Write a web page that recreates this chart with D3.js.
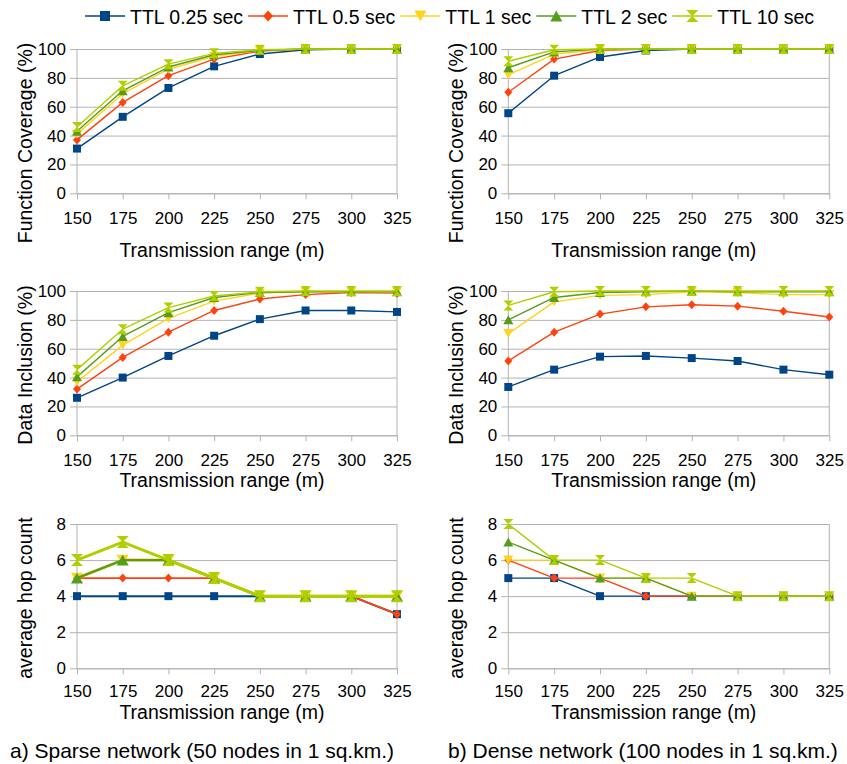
<!DOCTYPE html>
<html><head><meta charset="utf-8">
<script src="https://cdn.jsdelivr.net/npm/d3@7"></script>
<style>
html,body{margin:0;padding:0;background:#fff;}
svg text{font-family:"Liberation Sans",Arial,sans-serif;fill:#000;}
</style></head>
<body><svg id="c" width="847" height="764"></svg>
<script>
// ---- data ----
const ranges = [150, 175, 200, 225, 250, 275, 300, 325];
const seriesNames = ["TTL 0.25 sec", "TTL 0.5 sec", "TTL 1 sec", "TTL 2 sec", "TTL 10 sec"];
const pctTicks = [0, 20, 40, 60, 80, 100];
const hopTicks = [0, 2, 4, 6, 8];

const sparseCoverage025 = [31, 53, 73, 88, 96.5, 99.5, 100, 100];
const sparseCoverage05  = [37, 63, 81.5, 93, 98.5, 100, 100, 100];
const sparseCoverage1   = [41, 69, 86, 95, 99, 100, 100, 100];
const sparseCoverage2   = [43, 71, 87.5, 96, 99, 100, 100, 100];
const sparseCoverage10  = [46, 74.5, 89.5, 97, 99.5, 100, 100, 100];

const denseCoverage025 = [55.5, 81.5, 94.5, 99, 100, 100, 100, 100];
const denseCoverage05  = [70, 93, 99, 100, 100, 100, 100, 100];
const denseCoverage1   = [82, 96.5, 99.5, 100, 100, 100, 100, 100];
const denseCoverage2   = [87, 98, 100, 100, 100, 100, 100, 100];
const denseCoverage10  = [91.5, 99.5, 100, 100, 100, 100, 100, 100];

const sparseInclusion025 = [26, 40, 55, 69, 80.5, 86.5, 86.5, 85.5];
const sparseInclusion05  = [32, 54, 71.5, 86.5, 94.5, 97.5, 99, 98.5];
const sparseInclusion1   = [37, 62.5, 81, 93, 98.5, 99.5, 99.5, 99.5];
const sparseInclusion2   = [40.5, 68.5, 85, 95.5, 99, 99.5, 99.5, 99.5];
const sparseInclusion10  = [45.5, 73.5, 88.5, 96.5, 99.5, 100, 100, 100];

const denseInclusion025 = [33.5, 45.5, 54.5, 55, 53.5, 51.5, 45.5, 42];
const denseInclusion05  = [51.5, 71.5, 84, 89, 90.5, 89.5, 86, 82];
const denseInclusion1   = [70.5, 92.5, 97, 97.5, 99.5, 99, 97.5, 97.5];
const denseInclusion2   = [80, 95.5, 99, 99.5, 100, 99.5, 99.5, 99.5];
const denseInclusion10  = [90, 99.5, 100, 100, 100, 100, 100, 100];

const sparseHops025 = [4, 4, 4, 4, 4, 4, 4, 3];
const sparseHops05  = [5, 5, 5, 5, 4, 4, 4, 3];
const sparseHops1   = [5, 6, 6, 5, 4, 4, 4, 4];
const sparseHops2   = [5, 6, 6, 5, 4, 4, 4, 4];
const sparseHops10  = [6, 7, 6, 5, 4, 4, 4, 4];

const denseHops025 = [5, 5, 4, 4, 4, 4, 4, 4];
const denseHops05  = [6, 5, 5, 4, 4, 4, 4, 4];
const denseHops1   = [6, 6, 5, 5, 4, 4, 4, 4];
const denseHops2   = [7, 6, 5, 5, 4, 4, 4, 4];
const denseHops10  = [8, 6, 6, 5, 5, 4, 4, 4];

const captions = ["a) Sparse network (50 nodes in 1 sq.km.)", "b) Dense network (100 nodes in 1 sq.km.)"];

// ---- styles ----
const colors = ["#004586", "#ff420e", "#ffd320", "#579d1c", "#aecf00"];
const FONT_TICK = 17, FONT_TITLE = 19.5, FONT_LEG = 19.5, FONT_CAP = 21;
const grid = "#b3b3b3";

// marker shapes
const sqr = {draw(c, s){ const h = s/2; c.moveTo(-h,-h); c.lineTo(h,-h); c.lineTo(h,h); c.lineTo(-h,h); c.closePath(); }};
const dia = {draw(c, s){ const w = s/2, h = s/2+0.5; c.moveTo(0,-h); c.lineTo(w,0); c.lineTo(0,h); c.lineTo(-w,0); c.closePath(); }};
const triDown = {draw(c, s){ const w = s/2, h = s*0.45; c.moveTo(-w,-h); c.lineTo(w,-h); c.lineTo(0,h); c.closePath(); }};
const triUp = {draw(c, s){ const w = s/2, h = s*0.45; c.moveTo(-w,h); c.lineTo(w,h); c.lineTo(0,-h); c.closePath(); }};
const hour = {draw(c, s){ const w = s/2, h = s/2; c.moveTo(-w,-h); c.lineTo(w,-h); c.lineTo(0,0); c.lineTo(w,h); c.lineTo(-w,h); c.lineTo(0,0); c.closePath(); }};
const shapes = [sqr, dia, triDown, triUp, hour];
const shapeSizes = [8, 8, 10, 10, 10];

const svg = d3.select("#c");

const L = {x0: 77, x1: 397}, R = {x0: 508.3, x1: 829.3};
const rows = [
  {y0: 49, y1: 193.3, ticks: pctTicks, dom: [0, 100], title: "Function Coverage (%)", tickBase: 224, xTitleBase: 257, yTitleCenter: 143},
  {y0: 291, y1: 435.3, ticks: pctTicks, dom: [0, 100], title: "Data Inclusion (%)", tickBase: 466, xTitleBase: 487, yTitleCenter: 365},
  {y0: 524, y1: 668.3, ticks: hopTicks, dom: [0, 8], title: "average hop count", tickBase: 697, xTitleBase: 719, yTitleCenter: 598}
];
const panels = [
  {col: L, row: 0, series: [sparseCoverage025, sparseCoverage05, sparseCoverage1, sparseCoverage2, sparseCoverage10], widths: [1.4,1.4,1.4,1.4,1.4]},
  {col: R, row: 0, series: [denseCoverage025, denseCoverage05, denseCoverage1, denseCoverage2, denseCoverage10], widths: [1.4,1.4,1.4,1.4,1.4]},
  {col: L, row: 1, series: [sparseInclusion025, sparseInclusion05, sparseInclusion1, sparseInclusion2, sparseInclusion10], widths: [1.4,1.4,1.4,1.4,1.4]},
  {col: R, row: 1, series: [denseInclusion025, denseInclusion05, denseInclusion1, denseInclusion2, denseInclusion10], widths: [1.4,1.4,1.4,1.4,1.4]},
  {col: L, row: 2, series: [sparseHops025, sparseHops05, sparseHops1, sparseHops2, sparseHops10], widths: [2, 1.8, 3, 2.4, 3], big: true},
  {col: R, row: 2, series: [denseHops025, denseHops05, denseHops1, denseHops2, denseHops10], widths: [1.4,1.4,1.4,1.4,1.4]}
];

panels.forEach(p => {
  const r = rows[p.row];
  const x = d3.scalePoint().domain(ranges).range([p.col.x0, p.col.x1]);
  const y = d3.scaleLinear().domain(r.dom).range([r.y1, r.y0]);
  const g = svg.append("g");

  // gridlines + y ticks
  const yAxis = d3.axisLeft(y).tickValues(r.ticks).tickSize(-(p.col.x1 - p.col.x0)).tickPadding(11).tickSizeOuter(0);
  const ya = g.append("g").attr("transform", `translate(${p.col.x0},0)`).call(yAxis);
  ya.select(".domain").remove();
  ya.selectAll(".tick line").attr("stroke", grid).attr("x1", -7);
  ya.selectAll(".tick text").attr("font-size", FONT_TICK).attr("font-family", "Liberation Sans, Arial, sans-serif").attr("fill", "#000");

  // x axis
  const xAxis = d3.axisBottom(x).tickSize(6).tickPadding(11).tickSizeOuter(0);
  const xa = g.append("g").attr("transform", `translate(0,${r.y1})`).call(xAxis);
  xa.select(".domain").attr("stroke", grid);
  xa.selectAll(".tick line").attr("stroke", grid);
  xa.selectAll(".tick text").attr("font-size", FONT_TICK).attr("font-family", "Liberation Sans, Arial, sans-serif").attr("fill", "#000").attr("dy", null)
    .attr("y", r.tickBase - r.y1);

  // vertical frame lines
  g.append("line").attr("x1", p.col.x0).attr("x2", p.col.x0).attr("y1", r.y0).attr("y2", r.y1).attr("stroke", grid);
  g.append("line").attr("x1", p.col.x1).attr("x2", p.col.x1).attr("y1", r.y0).attr("y2", r.y1).attr("stroke", grid);

  // titles
  g.append("text").attr("x", (p.col.x0 + p.col.x1) / 2 - 15).attr("y", r.xTitleBase).attr("text-anchor", "middle")
    .attr("font-size", FONT_TITLE).text("Transmission range (m)");
  const tx = p.col.x0 - 45.3;
  g.append("text").attr("transform", `translate(${tx},${r.yTitleCenter}) rotate(-90)`).attr("text-anchor", "middle")
    .attr("font-size", FONT_TITLE).text(r.title);

  // series
  const line = d3.line().x((d, i) => x(ranges[i])).y(d => y(d));
  p.series.forEach((vals, si) => {
    const sg = g.append("g");
    sg.append("path").attr("d", line(vals)).attr("fill", "none").attr("stroke", colors[si])
      .attr("stroke-width", p.widths[si]).attr("stroke-linejoin", "round");
    const sz = shapeSizes[si] + (p.big && si >= 2 ? 2 : 0);
    sg.selectAll("path.m").data(vals).enter().append("path").attr("class", "m")
      .attr("transform", (d, i) => `translate(${x(ranges[i])},${y(d)})`)
      .attr("d", d3.symbol().type(shapes[si]).size(sz))
      .attr("fill", colors[si]);
  });
});

// captions
svg.append("text").attr("x", 10).attr("y", 758).attr("font-size", FONT_CAP).text(captions[0]);
svg.append("text").attr("x", 448).attr("y", 758).attr("font-size", FONT_CAP).text(captions[1]);

// legend
let lx = 85;
const ly = 16;
seriesNames.forEach((name, si) => {
  const lg = svg.append("g");
  lg.append("line").attr("x1", lx).attr("x2", lx + 40).attr("y1", ly).attr("y2", ly).attr("stroke", colors[si]).attr("stroke-width", 1.6);
  lg.append("path").attr("transform", `translate(${lx + 20},${ly})`).attr("d", d3.symbol().type(shapes[si]).size(shapeSizes[si] + 2)).attr("fill", colors[si]);
  const t = lg.append("text").attr("x", lx + 45).attr("y", ly + 8).attr("font-size", FONT_LEG).text(name);
  lx += 45 + t.node().getComputedTextLength() + 5;
});
</script></body></html>
